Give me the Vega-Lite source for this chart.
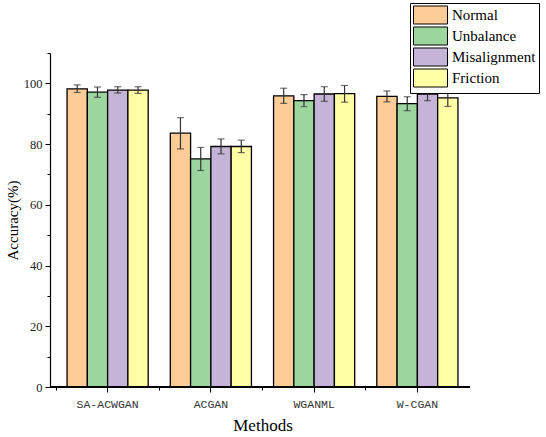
{
  "$schema": "https://vega.github.io/schema/vega-lite/v6.json",
  "description": "Grouped bar chart of accuracy by method and fault type, with error bars",
  "autosize": "none",
  "padding": {"left": 50, "top": 53, "right": 76, "bottom": 50},
  "width": 420,
  "height": 334,
  "data": {
    "values": [
      {"Method": "SA-ACWGAN", "Condition": "Normal", "acc": 98.2, "lo": 97.0, "hi": 99.5},
      {"Method": "SA-ACWGAN", "Condition": "Unbalance", "acc": 97.1, "lo": 95.4, "hi": 98.8},
      {"Method": "SA-ACWGAN", "Condition": "Misalignment", "acc": 97.8, "lo": 96.8, "hi": 98.9},
      {"Method": "SA-ACWGAN", "Condition": "Friction", "acc": 97.8, "lo": 96.7, "hi": 98.9},
      {"Method": "ACGAN", "Condition": "Normal", "acc": 83.6, "lo": 78.4, "hi": 88.7},
      {"Method": "ACGAN", "Condition": "Unbalance", "acc": 75.1, "lo": 71.3, "hi": 78.9},
      {"Method": "ACGAN", "Condition": "Misalignment", "acc": 79.2, "lo": 76.8, "hi": 81.7},
      {"Method": "ACGAN", "Condition": "Friction", "acc": 79.2, "lo": 77.2, "hi": 81.3},
      {"Method": "WGANML", "Condition": "Normal", "acc": 95.9, "lo": 93.4, "hi": 98.4},
      {"Method": "WGANML", "Condition": "Unbalance", "acc": 94.3, "lo": 92.3, "hi": 96.3},
      {"Method": "WGANML", "Condition": "Misalignment", "acc": 96.5, "lo": 94.1, "hi": 98.9},
      {"Method": "WGANML", "Condition": "Friction", "acc": 96.6, "lo": 93.8, "hi": 99.3},
      {"Method": "W-CGAN", "Condition": "Normal", "acc": 95.7, "lo": 93.9, "hi": 97.5},
      {"Method": "W-CGAN", "Condition": "Unbalance", "acc": 93.3, "lo": 91.0, "hi": 95.6},
      {"Method": "W-CGAN", "Condition": "Misalignment", "acc": 96.5, "lo": 94.3, "hi": 98.7},
      {"Method": "W-CGAN", "Condition": "Friction", "acc": 95.2, "lo": 92.4, "hi": 98.1}
    ]
  },
  "layer": [
    {
      "mark": {"type": "bar", "stroke": "black", "strokeWidth": 1.3},
      "encoding": {
        "x": {
          "field": "Method",
          "type": "nominal",
          "sort": ["SA-ACWGAN", "ACGAN", "WGANML", "W-CGAN"],
          "scale": {"range": [6, 419], "paddingInner": 0, "paddingOuter": 0},
          "axis": {
            "orient": "bottom",
            "title": "Methods",
            "labelAngle": 0,
            "domain": false,
            "tickSize": 5,
            "tickColor": "black",
            "labelFont": "Liberation Mono",
            "labelFontSize": 11.5,
            "labelColor": "#333",
            "labelPadding": 6,
            "titleFont": "Liberation Serif",
            "titleFontSize": 17,
            "titleFontWeight": "normal",
            "titleColor": "black",
            "titlePadding": 8
          }
        },
        "xOffset": {
          "field": "Condition",
          "type": "nominal",
          "sort": ["Normal", "Unbalance", "Misalignment", "Friction"],
          "scale": {"paddingInner": 0, "paddingOuter": 0.545}
        },
        "y": {
          "field": "acc",
          "type": "quantitative",
          "scale": {"domain": [0, 110], "nice": false},
          "axis": {
            "orient": "left",
            "title": "Accuracy(%)",
            "values": [0, 20, 40, 60, 80, 100],
            "grid": false,
            "domainColor": "black",
            "domainWidth": 1.2,
            "tickColor": "black",
            "tickSize": 5,
            "labelFont": "Liberation Serif",
            "labelFontSize": 12.5,
            "labelColor": "#222",
            "labelPadding": 3,
            "titleFont": "Liberation Serif",
            "titleFontSize": 15,
            "titleFontWeight": "normal",
            "titleColor": "black",
            "titlePadding": 3
          }
        },
        "color": {
          "field": "Condition",
          "type": "nominal",
          "sort": ["Normal", "Unbalance", "Misalignment", "Friction"],
          "scale": {"range": ["#FECC96", "#9CD69E", "#C5B3D8", "#FFFFA5"]},
          "legend": {
            "title": null,
            "orient": "none",
            "legendX": 360,
            "legendY": -50,
            "strokeColor": "black",
            "fillColor": "white",
            "padding": 3,
            "rowPadding": -6,
            "symbolType": "M-1,-1.06H3V1.06H-1Z",
            "symbolSize": 289,
            "symbolStrokeColor": "black",
            "symbolStrokeWidth": 1,
            "symbolOpacity": 1,
            "labelOffset": 21,
            "labelFont": "Liberation Serif",
            "labelFontSize": 15,
            "labelColor": "black",
            "labelLimit": 200
          }
        }
      }
    },
    {
      "mark": {"type": "rule", "color": "#333", "strokeWidth": 1.2},
      "encoding": {
        "x": {
          "field": "Method",
          "type": "nominal",
          "sort": ["SA-ACWGAN", "ACGAN", "WGANML", "W-CGAN"],
          "axis": {
            "orient": "bottom",
            "title": null,
            "labels": false,
            "domain": false,
            "bandPosition": 0,
            "tickSize": 3,
            "tickColor": "black"
          }
        },
        "xOffset": {
          "field": "Condition",
          "type": "nominal",
          "sort": ["Normal", "Unbalance", "Misalignment", "Friction"]
        },
        "y": {
          "field": "lo",
          "type": "quantitative",
          "axis": {
            "orient": "left",
            "title": null,
            "labels": false,
            "domain": false,
            "grid": false,
            "values": [10, 30, 50, 70, 90, 110],
            "tickSize": 3,
            "tickColor": "black"
          }
        },
        "y2": {"field": "hi"}
      }
    },
    {
      "mark": {"type": "tick", "color": "#333", "thickness": 1.2, "size": 7},
      "encoding": {
        "x": {"field": "Method", "type": "nominal", "sort": ["SA-ACWGAN", "ACGAN", "WGANML", "W-CGAN"], "axis": null},
        "xOffset": {"field": "Condition", "type": "nominal", "sort": ["Normal", "Unbalance", "Misalignment", "Friction"]},
        "y": {"field": "lo", "type": "quantitative", "axis": null}
      }
    },
    {
      "mark": {"type": "tick", "color": "#333", "thickness": 1.2, "size": 7},
      "encoding": {
        "x": {"field": "Method", "type": "nominal", "sort": ["SA-ACWGAN", "ACGAN", "WGANML", "W-CGAN"], "axis": null},
        "xOffset": {"field": "Condition", "type": "nominal", "sort": ["Normal", "Unbalance", "Misalignment", "Friction"]},
        "y": {"field": "hi", "type": "quantitative", "axis": null}
      }
    },
    {
      "mark": {"type": "rule", "color": "black", "strokeWidth": 1.2},
      "encoding": {
        "y": {"datum": 0, "type": "quantitative", "axis": null}
      }
    }
  ],
  "resolve": {"axis": {"x": "independent", "y": "independent"}},
  "config": {
    "view": {"stroke": null},
    "background": "white"
  }
}
